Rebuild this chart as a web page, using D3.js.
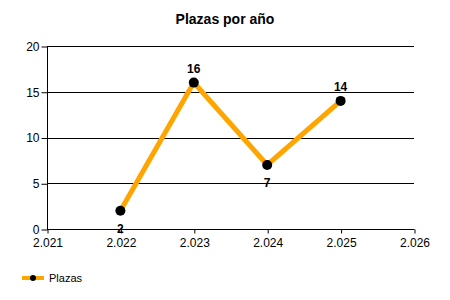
<!DOCTYPE html>
<html>
<head>
<meta charset="utf-8">
<script src="https://cdn.jsdelivr.net/npm/d3@7"></script>
<style>
  body { margin: 0; background: #fff; }
  text { font-family: "Liberation Sans", Arial, sans-serif; }
</style>
</head>
<body>
<div id="chart"></div>
<script>
// data
var years = [2022, 2023, 2024, 2025];
var plazas = [2, 16, 7, 14];
var labelPos = ["below", "above", "below", "above"];
var xTicks = [2021, 2022, 2023, 2024, 2025, 2026];
var yTicks = [0, 5, 10, 15, 20];

var width = 450, height = 300;
var margin = { left: 47, right: 36, top: 46, bottom: 71 };

var svg = d3.select("#chart")
  .append("svg")
    .attr("width", width)
    .attr("height", height);

var x = d3.scaleLinear()
  .domain([2021, 2026])
  .range([margin.left, width - margin.right]);

var y = d3.scaleLinear()
  .domain([0, 20])
  .range([height - margin.bottom, margin.top]);

// title
svg.append("text")
  .attr("x", 225)
  .attr("y", 24)
  .attr("text-anchor", "middle")
  .attr("font-size", 14)
  .attr("font-weight", "bold")
  .text("Plazas por año");

// grid lines
svg.append("g")
  .selectAll("line")
  .data(yTicks.filter(function(d) { return d > 0; }))
  .enter().append("line")
    .attr("x1", x(2021))
    .attr("x2", x(2026))
    .attr("y1", function(d) { return Math.round(y(d)) + 0.5; })
    .attr("y2", function(d) { return Math.round(y(d)) + 0.5; })
    .attr("stroke", "#000");

// y axis
var yAxis = d3.axisLeft(y)
  .tickValues(yTicks)
  .tickSize(6)
  .tickPadding(2);
var yG = svg.append("g")
  .attr("transform", "translate(" + (margin.left + 0.5) + ",0.5)")
  .call(yAxis);
yG.select(".domain").attr("stroke", "#000").attr("d", "M0," + y(20) + "V" + y(0));
yG.selectAll("text").attr("font-size", 12).attr("font-family", "Liberation Sans, Arial, sans-serif").attr("fill", "#000");

// x axis
var xAxis = d3.axisBottom(x)
  .tickValues(xTicks)
  .tickSize(4)
  .tickPadding(5)
  .tickFormat(function(d) { return d3.format(",")(d).replace(",", "."); });
var xG = svg.append("g")
  .attr("transform", "translate(0.5," + (Math.round(y(0)) + 0.5) + ")")
  .call(xAxis);
xG.select(".domain").attr("stroke", "#000").attr("d", "M" + (x(2021) - 0.5) + ",0H" + x(2026));
xG.selectAll("text").attr("font-size", 12).attr("font-family", "Liberation Sans, Arial, sans-serif").attr("fill", "#000");

// line
var line = d3.line()
  .x(function(d, i) { return x(years[i]); })
  .y(function(d) { return y(d); });

svg.append("path")
  .datum(plazas)
  .attr("fill", "none")
  .attr("stroke", "#FFA500")
  .attr("stroke-width", 5)
  .attr("d", line);

// markers
svg.append("g")
  .selectAll("circle")
  .data(plazas)
  .enter().append("circle")
    .attr("cx", function(d, i) { return x(years[i]); })
    .attr("cy", function(d) { return y(d); })
    .attr("r", 5)
    .attr("fill", "#000");

// value labels
svg.append("g")
  .selectAll("text")
  .data(plazas)
  .enter().append("text")
    .attr("x", function(d, i) { return x(years[i]); })
    .attr("y", function(d, i) { return labelPos[i] == "above" ? y(d) - 10 : y(d) + 22; })
    .attr("text-anchor", "middle")
    .attr("font-size", 12)
    .attr("font-weight", "bold")
    .text(function(d) { return d; });

// legend
var lg = svg.append("g").attr("transform", "translate(0,278)");
lg.append("line")
  .attr("x1", 22).attr("x2", 44)
  .attr("y1", 0).attr("y2", 0)
  .attr("stroke", "#FFA500")
  .attr("stroke-width", 4);
lg.append("circle")
  .attr("cx", 33).attr("cy", 0).attr("r", 3)
  .attr("fill", "#000");
lg.append("text")
  .attr("x", 49).attr("y", 4)
  .attr("font-size", 11)
  .text("Plazas");
</script>
</body>
</html>
